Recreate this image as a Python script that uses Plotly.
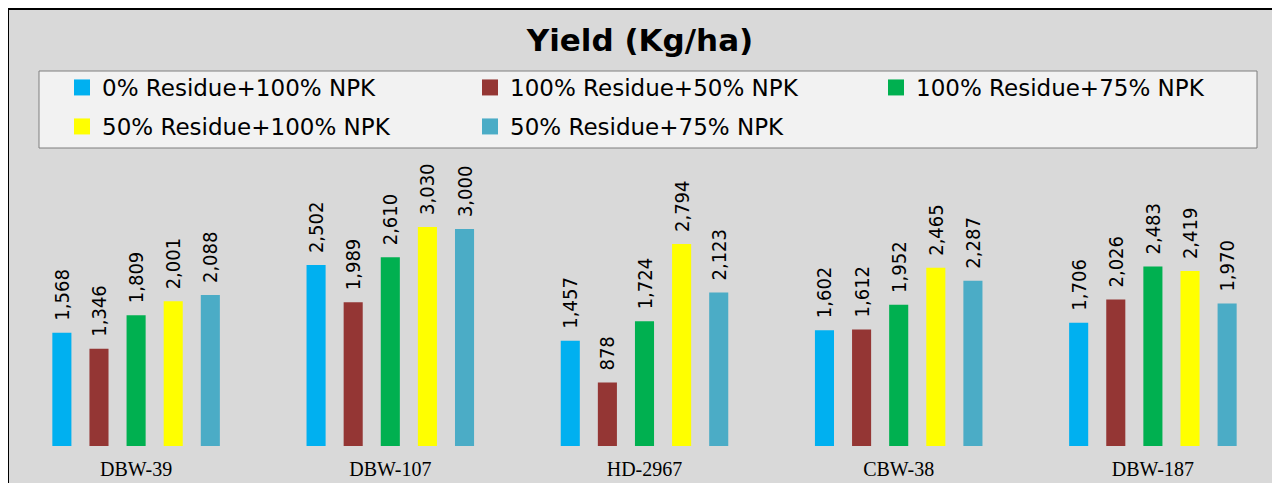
import plotly.graph_objects as go

categories = ["DBW-39", "DBW-107", "HD-2967", "CBW-38", "DBW-187"]
series_names = [
    "0% Residue+100% NPK",
    "100% Residue+50% NPK",
    "100% Residue+75% NPK",
    "50% Residue+100% NPK",
    "50% Residue+75% NPK",
]
s0 = [1568, 2502, 1457, 1602, 1706]
s1 = [1346, 1989, 878, 1612, 2026]
s2 = [1809, 2610, 1724, 1952, 2483]
s3 = [2001, 3030, 2794, 2465, 2419]
s4 = [2088, 3000, 2123, 2287, 1970]
colors = ["#00B0F0", "#943634", "#00B050", "#FFFF00", "#4BACC6"]

# page offset (browser body margin)
OFF = 8
W, H = 1280 - OFF, 483 - OFF
ML, MR, MT, MB = 9 - OFF, 0, 160 - OFF, 483 - 446
PW = W - ML - MR
PH = H - MT - MB


def px_x(x):  # page pixel -> paper
    return (x - OFF - ML) / PW


def px_y(y):
    return (H - MB - (y - OFF)) / PH


fig = go.Figure()
for name, vals, col in zip(series_names, [s0, s1, s2, s3, s4], colors):
    fig.add_trace(go.Bar(
        name=name, x=categories, y=vals, showlegend=False,
        marker=dict(color=col, line=dict(width=0)),
        texttemplate="\u2002%{y:,}", textposition="outside", textangle=-90,
        constraintext="none",
        textfont=dict(family="Liberation Sans Narrow, DejaVu Sans Condensed, Arial Narrow, sans-serif",
                      size=20, color="#000000"),
        cliponaxis=False,
    ))

# legend entries: row 1 = legend (cols 1-2) + legend3 (col 3); row 2 = legend2
legend_of = ["legend", "legend", "legend3", "legend2", "legend2"]
for name, col, lg in zip(series_names, colors, legend_of):
    fig.add_trace(go.Scatter(
        name=name, x=[None], y=[None], mode="markers",
        marker=dict(symbol="square", size=16, color=col),
        legend=lg, showlegend=True,
    ))

leg_common = dict(
    orientation="h", xanchor="left", yanchor="top",
    bgcolor="rgba(0,0,0,0)", borderwidth=0,
    entrywidth=363, entrywidthmode="pixels",
    font=dict(family="DejaVu Sans, sans-serif", size=23, color="#000000"),
    traceorder="normal",
)

fig.update_layout(
    width=W, height=H,
    margin=dict(l=ML, r=MR, t=MT, b=MB, pad=0, autoexpand=False),
    paper_bgcolor="white",
    plot_bgcolor="rgba(0,0,0,0)",
    barmode="group",
    bargap=0.27,
    bargroupgap=0.486,
    title=dict(text="<b>Yield (Kg/ha)</b>", x=(640 - OFF) / W, xref="container", xanchor="center",
               y=1 - (40 - OFF) / H, yanchor="middle", yref="container",
               font=dict(family="DejaVu Sans, sans-serif", size=31, color="#000000")),
    legend=dict(leg_common, x=px_x(62), y=px_y(66)),
    legend3=dict(leg_common, x=px_x(876), y=px_y(66), entrywidth=300),
    legend2=dict(leg_common, x=px_x(62), y=px_y(105)),
    xaxis=dict(showline=False, showgrid=False, ticks="", zeroline=False,
               tickfont=dict(family="Liberation Serif, serif", size=20, color="#000000"),
               ticklabelstandoff=9),
    yaxis=dict(visible=False, range=[0, PH / 0.0723], showgrid=False, zeroline=False),
    shapes=[
        dict(type="rect", xref="paper", yref="paper", layer="below",
             x0=px_x(8), x1=px_x(1276), y0=px_y(520), y1=px_y(9),
             fillcolor="#D9D9D9", line=dict(color="#000000", width=2)),
        dict(type="rect", xref="paper", yref="paper", layer="below",
             x0=px_x(39), x1=px_x(1257), y0=px_y(148), y1=px_y(71),
             fillcolor="#F2F2F2", line=dict(color="#7F7F7F", width=1)),
    ],
)

fig.write_html("out.html")
